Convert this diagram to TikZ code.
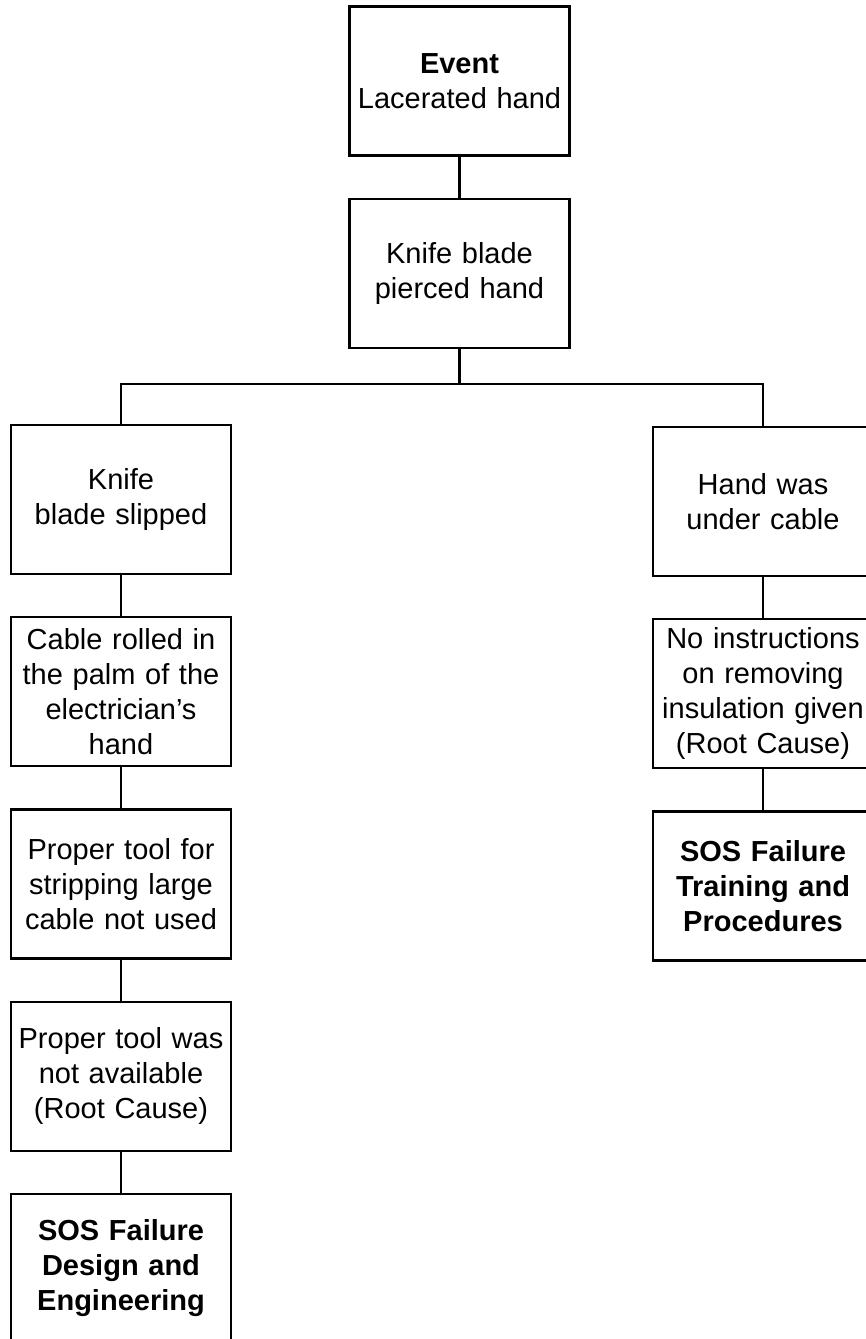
\documentclass[tikz,border=0pt]{standalone}
\usepackage{fontspec}
\setmainfont{Liberation Sans}
\usetikzlibrary{positioning}

\begin{document}
\begin{tikzpicture}
	[-,x=1pt,y=1pt,line width=2.2pt,node distance=41pt]
	\tikzstyle{box}=[draw,rectangle,minimum width=220pt,minimum height=149pt,text width=212pt,inner sep=4pt,align=center,font=\fontsize{29pt}{35pt}\selectfont]
	\tikzstyle{sos}=[font=\fontsize{29pt}{35pt}\selectfont\bfseries]

	\useasboundingbox (0,0) rectangle (866,-1339);
	\clip (0,0) rectangle (866,-1339);

	\node[box] (event) at (459.5,-81) {\textbf{Event}\\Lacerated hand};
	\node[box] (pierced) [below=of event] {Knife blade\\pierced hand};
	\node[box] (slipped) at (121,-499.5) {Knife\\blade slipped};
	\node[box] (cable) [below=of slipped] {Cable rolled in\\the palm of the\\electrician's\\hand};
	\node[box] (stripping) [below=of cable] {Proper tool for\\stripping large\\cable not used};
	\node[box] (notavail) [below=of stripping] {Proper tool was\\not available\\(Root Cause)};
	\node[box,sos] (design) [below=of notavail] {SOS Failure\\Design and\\Engineering};
	\node[box] (under) at (763,-501.5) {Hand was\\under cable};
	\node[box] (noinstr) [below=of under] {No instructions\\on removing\\insulation given\\(Root Cause)};
	\node[box,sos] (training) [below=of noinstr] {SOS Failure\\Training and\\Procedures};

	\path (event) edge (pierced)
		(slipped) edge (cable)
		(cable) edge (stripping)
		(stripping) edge (notavail)
		(notavail) edge (design)
		(under) edge (noinstr)
		(noinstr) edge (training);
	\draw (pierced.south) -- ++(0,-35) coordinate (bus) -| (slipped.north);
	\draw (bus) -| (under.north);
\end{tikzpicture}
\end{document}
